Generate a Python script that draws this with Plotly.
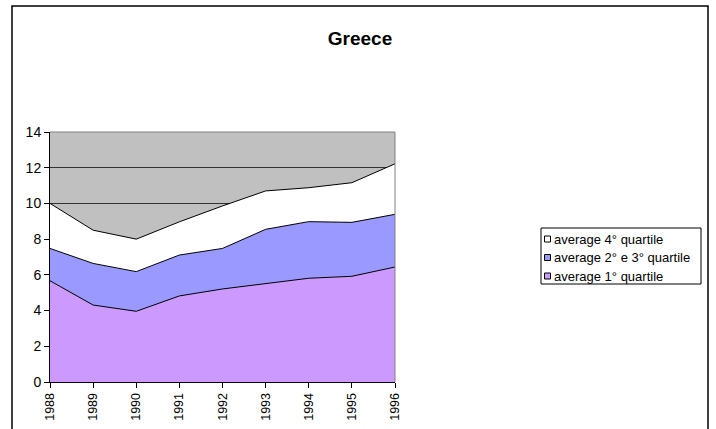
import plotly.graph_objects as go

years = [1988, 1989, 1990, 1991, 1992, 1993, 1994, 1995, 1996]
year_labels = [str(y) for y in years]

# stacked layers (bottom to top)
q1 = [5.67, 4.31, 3.96, 4.82, 5.21, 5.53, 5.81, 5.92, 6.44]
q23 = [1.81, 2.33, 2.22, 2.29, 2.27, 3.02, 3.17, 3.02, 2.95]
q4 = [2.52, 1.86, 1.82, 1.86, 2.38, 2.15, 1.90, 2.22, 2.83]

names = ["average 1° quartile", "average 2° e 3° quartile", "average 4° quartile"]
fills = ["#cc99ff", "#9999ff", "#ffffff"]

font_family = "Arial, Liberation Sans, sans-serif"

fig = go.Figure()
for vals, name, col in zip([q1, q23, q4], names, fills):
    fig.add_trace(go.Scatter(
        x=years, y=vals, name=name, mode="lines",
        stackgroup="one", fillcolor=col,
        line=dict(color="#000000", width=1),
        showlegend=False,
    ))

W, H = 716, 429
L, R, T, B = 50, 395, 132, 382

def px_x(p):
    return (p - L) / (R - L)

def px_y(p):
    return (B - p) / (B - T)

shapes = [
    # plot-area top and right edges
    dict(type="line", xref="paper", yref="paper", x0=0, x1=1, y0=1, y1=1,
         line=dict(color="#808080", width=1), layer="above"),
    dict(type="line", xref="paper", yref="paper", x0=1, x1=1, y0=0, y1=1,
         line=dict(color="#808080", width=1), layer="above"),
    # chart frame
    dict(type="rect", xref="paper", yref="paper",
         x0=px_x(12), x1=px_x(708), y0=px_y(440), y1=px_y(6),
         line=dict(color="#000000", width=1.5), fillcolor="rgba(0,0,0,0)",
         layer="above"),
    # legend box
    dict(type="rect", xref="paper", yref="paper",
         x0=px_x(541), x1=px_x(701), y0=px_y(284), y1=px_y(228),
         line=dict(color="#000000", width=1), fillcolor="#ffffff",
         layer="above"),
]
annotations = []

# legend entries, top to bottom
row_centers = [239, 257.5, 276]
for (name, col), yc in zip(list(zip(names, fills))[::-1], row_centers):
    shapes.append(dict(
        type="rect", xref="paper", yref="paper",
        x0=px_x(544.5), x1=px_x(550.5), y0=px_y(yc + 3), y1=px_y(yc - 3),
        line=dict(color="#000000", width=1), fillcolor=col, layer="above",
    ))
    annotations.append(dict(
        text=name, xref="paper", yref="paper", x=px_x(552), y=px_y(yc),
        xanchor="left", yanchor="middle", showarrow=False,
        font=dict(size=13, family=font_family, color="#000000"),
    ))

fig.update_layout(
    width=W, height=H,
    margin=dict(l=L, r=W - R, t=T, b=H - B),
    paper_bgcolor="#ffffff",
    plot_bgcolor="#c0c0c0",
    font=dict(family=font_family, color="#000000", size=12),
    showlegend=False,
    title=dict(text="<b>Greece</b>", x=px_x(360), xref="paper", xanchor="center",
               y=1 - 38 / H, yanchor="middle", yref="container",
               font=dict(size=19, family=font_family, color="#000000")),
    xaxis=dict(
        range=[1988, 1996], tickmode="array", tickvals=years, ticktext=year_labels,
        tickangle=-90, ticks="outside", ticklen=5, tickcolor="#000000",
        showline=True, linecolor="#000000", linewidth=1, automargin=False,
        showgrid=False, zeroline=False, tickfont=dict(size=12.5),
    ),
    yaxis=dict(
        range=[0, 14], dtick=2, tick0=0, ticks="outside", ticklen=5,
        tickcolor="#000000", showline=True, linecolor="#000000", linewidth=1,
        showgrid=True, gridcolor="#333333", gridwidth=1, zeroline=False,
        automargin=False, tickfont=dict(size=14),
    ),
    shapes=shapes,
    annotations=annotations,
)

fig.write_html("out.html")
